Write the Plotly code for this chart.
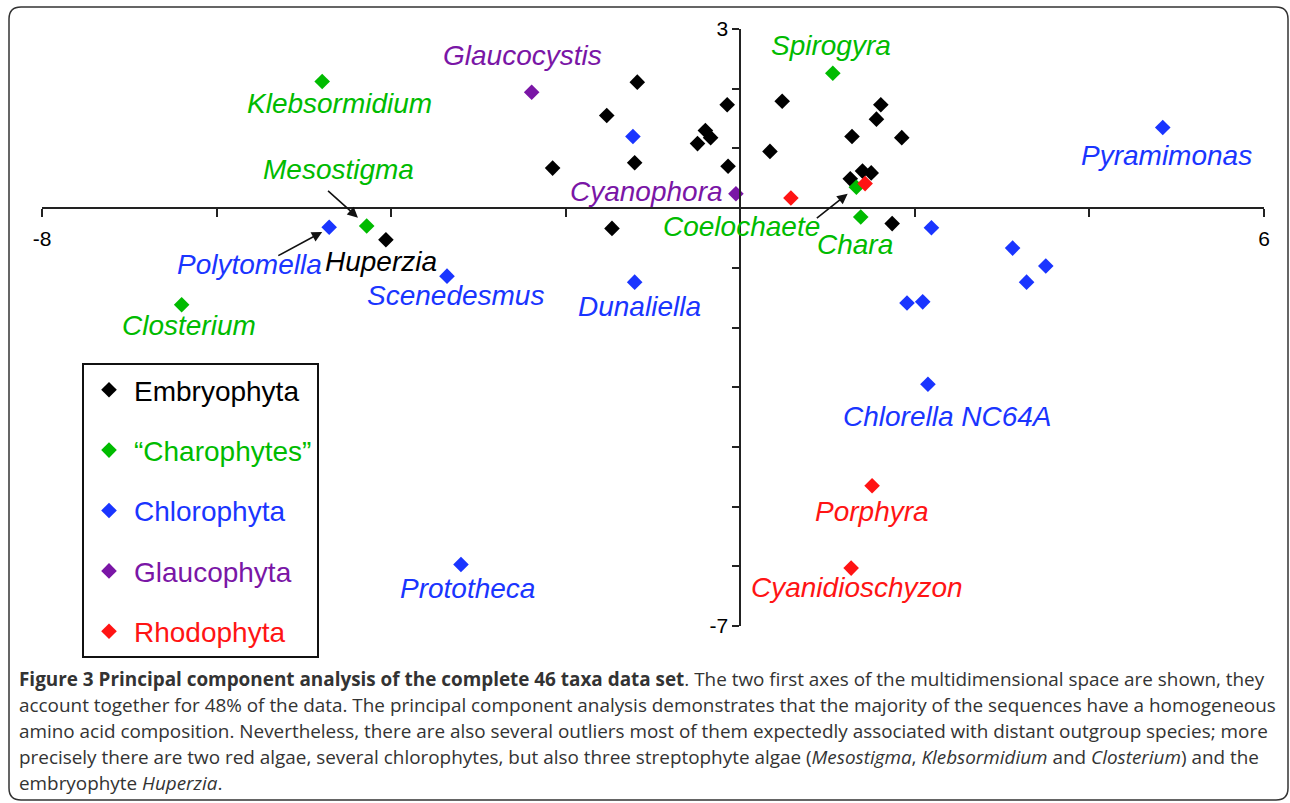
import plotly.graph_objects as go

W, H = 1290, 803

# ---- data (PC1, PC2) ----
groups = ["Embryophyta", "\u201cCharophytes\u201d", "Chlorophyta", "Glaucophyta", "Rhodophyta"]
group_colors = ["#000000", "#00bb00", "#1a35ff", "#7a16a6", "#ff1414"]

embryo_x = [-1.18, -1.53, -0.15, 0.48, 1.61, 1.56, -0.40, -0.34, -0.49, 1.28, 1.85,
            0.34, -2.15, -1.21, -0.14, 1.40, 1.50, 1.26, -1.47, 1.74, -4.06]
embryo_y = [2.11, 1.55, 1.73, 1.79, 1.73, 1.49, 1.30, 1.18, 1.08, 1.20, 1.18,
            0.95, 0.67, 0.76, 0.70, 0.62, 0.59, 0.49, -0.34, -0.26, -0.53]

charo_x = [-4.79, -4.28, -6.40, 1.06, 1.33, 1.38]
charo_y = [2.12, -0.30, -1.62, 2.26, 0.35, -0.15]

chloro_x = [-4.71, -3.36, -1.21, -1.23, 2.19, 1.91, 2.09, 3.12, 3.50, 3.28, 4.84, 2.15, -3.20]
chloro_y = [-0.32, -1.14, -1.24, 1.20, -0.33, -1.59, -1.57, -0.67, -0.97, -1.24, 1.35, -2.95, -5.97]

glauco_x = [-2.39, -0.05]
glauco_y = [1.94, 0.24]

rhodo_x = [0.58, 1.43, 1.51, 1.27]
rhodo_y = [0.17, 0.41, -4.65, -6.03]

series_x = [embryo_x, charo_x, chloro_x, glauco_x, rhodo_x]
series_y = [embryo_y, charo_y, chloro_y, glauco_y, rhodo_y]

# taxon labels: text, group index, x, y
label_text = ["Klebsormidium", "Mesostigma", "Polytomella", "Huperzia", "Closterium",
              "Scenedesmus", "Glaucocystis", "Spirogyra", "Cyanophora", "Coelochaete",
              "Chara", "Dunaliella", "Pyramimonas", "Chlorella NC64A", "Porphyra",
              "Cyanidioschyzon", "Prototheca"]
label_group = [1, 1, 2, 0, 1, 2, 3, 1, 3, 1, 1, 2, 2, 2, 4, 4, 2]
label_x = [-4.59, -4.60, -5.62, -4.12, -6.32, -3.26, -2.50, 1.04, -1.08, 0.01,
           1.31, -1.16, 4.88, 2.37, 1.51, 1.34, -3.12]
label_y = [1.75, 0.64, -0.95, -0.90, -1.97, -1.47, 2.56, 2.72, 0.28, -0.30,
           -0.61, -1.64, 0.88, -3.49, -5.08, -6.36, -6.38]

# pointer arrows: tail (x, y) -> head (x, y)
arrow_tail_x = [-4.74, -5.31, 0.86]
arrow_tail_y = [0.31, -0.81, -0.19]
arrow_head_x = [-4.38, -4.79, 1.23]
arrow_head_y = [-0.16, -0.40, 0.24]

x_ticks = [-8, -6, -4, -2, 0, 2, 4, 6]
x_ticktext = ["-8", "", "", "", "", "", "", "6"]
y_ticks = [-7, -6, -5, -4, -3, -2, -1, 0, 1, 2, 3]
y_ticktext = ["-7", "", "", "", "", "", "", "", "", "", "3"]

caption_lines = [
    "<b>Figure 3 Principal component analysis of the complete 46 taxa data set</b>. The two first axes of the multidimensional space are shown, they",
    "account together for 48% of the data. The principal component analysis demonstrates that the majority of the sequences have a homogeneous",
    "amino acid composition. Nevertheless, there are also several outliers most of them expectedly associated with distant outgroup species; more",
    "precisely there are two red algae, several chlorophytes, but also three streptophyte algae (<i>Mesostigma</i>, <i>Klebsormidium</i> and <i>Closterium</i>) and the",
    "embryophyte <i>Huperzia</i>.",
]

# ---- layout geometry (pixels) ----
px_left, px_right = 42, 1264
py_top, py_bottom = 29, 626
xdom = [px_left / W, px_right / W]
ydom = [1 - py_bottom / H, 1 - py_top / H]
xr = [-8, 6]
yr = [-7, 3]
x_axis_pos = ydom[0] + (0 - yr[0]) / (yr[1] - yr[0]) * (ydom[1] - ydom[0])
y_axis_pos = xdom[0] + (0 - xr[0]) / (xr[1] - xr[0]) * (xdom[1] - xdom[0])

fig = go.Figure()
for i, g in enumerate(groups):
    fig.add_trace(go.Scatter(
        x=series_x[i], y=series_y[i], mode="markers",
        name="<span style='color:%s'>%s</span>" % (group_colors[i], g),
        legendgroup="g%d" % i,
        marker=dict(symbol="diamond", size=12, color=group_colors[i], line=dict(width=0)),
        hoverinfo="skip",
    ))

annotations = []
for t, gi, lx, ly in zip(label_text, label_group, label_x, label_y):
    annotations.append(dict(
        x=lx, y=ly, xref="x", yref="y", text="<i>%s</i>" % t, showarrow=False,
        xanchor="center", yanchor="middle",
        font=dict(family="Liberation Sans, Arial", size=28, color=group_colors[gi]),
    ))
for tx, ty, hx, hy in zip(arrow_tail_x, arrow_tail_y, arrow_head_x, arrow_head_y):
    annotations.append(dict(
        x=hx, y=hy, ax=tx, ay=ty, xref="x", yref="y", axref="x", ayref="y",
        text="", showarrow=True, arrowhead=2, arrowsize=1.3, arrowwidth=1.6,
        arrowcolor="#111111", standoff=0, startstandoff=0,
    ))

caption_y_px = [679, 705, 731, 757, 783]
for line, cy in zip(caption_lines, caption_y_px):
    annotations.append(dict(
        x=17 / W, y=1 - cy / H, xref="paper", yref="paper", text=line,
        showarrow=False, xanchor="left", yanchor="middle", align="left",
        font=dict(family="Open Sans", size=18.9, color="#333333"),
    ))

# rounded border around the whole figure panel
bx0, by0, bx1, by1, rad = 9, 7, 1288, 800, 12
def fx(p): return p / W
def fy(p): return 1 - p / H
border = ("M {a},{b} L {c},{b} Q {r},{b} {r},{d} L {r},{e} Q {r},{t} {c},{t} "
          "L {a},{t} Q {l},{t} {l},{e} L {l},{d} Q {l},{b} {a},{b} Z").format(
    a=fx(bx0 + rad), b=fy(by0), c=fx(bx1 - rad), r=fx(bx1), d=fy(by0 + rad),
    e=fy(by1 - rad), t=fy(by1), l=fx(bx0))

fig.update_layout(
    template="none",
    width=W, height=H, margin=dict(l=0, r=0, t=0, b=0, pad=0, autoexpand=False),
    paper_bgcolor="white", plot_bgcolor="white",
    showlegend=True,
    legend=dict(
        x=82 / W, y=1 - 363 / H, xanchor="left", yanchor="top",
        bordercolor="#111111", borderwidth=2, bgcolor="white",
        font=dict(family="Liberation Sans, Arial", size=28, color="black"),
        tracegroupgap=21, traceorder="grouped", itemclick=False,
        itemwidth=40,
    ),
    xaxis=dict(
        domain=xdom, range=xr, anchor="free", position=x_axis_pos, automargin=False,
        showline=True, linecolor="#222222", linewidth=2,
        ticks="outside", ticklen=8, tickwidth=2, tickcolor="#222222",
        tickvals=x_ticks, ticktext=x_ticktext, ticklabelstandoff=4,
        showgrid=False, zeroline=False, fixedrange=True,
        tickfont=dict(family="Liberation Sans, Arial", size=21, color="black"),
    ),
    yaxis=dict(
        domain=ydom, range=yr, anchor="free", position=y_axis_pos, automargin=False,
        showline=True, linecolor="#222222", linewidth=2,
        ticks="outside", ticklen=7, tickwidth=2, tickcolor="#222222",
        tickvals=y_ticks, ticktext=y_ticktext,
        showgrid=False, zeroline=False, fixedrange=True,
        tickfont=dict(family="Liberation Sans, Arial", size=21, color="black"),
    ),
    annotations=annotations,
    shapes=[dict(type="path", path=border, xref="paper", yref="paper",
                 line=dict(color="#333333", width=1.5))],
)

fig.write_html(
    "out.html",
    config={"displayModeBar": False, "staticPlot": True},
    post_script="document.body.style.margin='0';document.body.style.overflow='hidden';",
)
